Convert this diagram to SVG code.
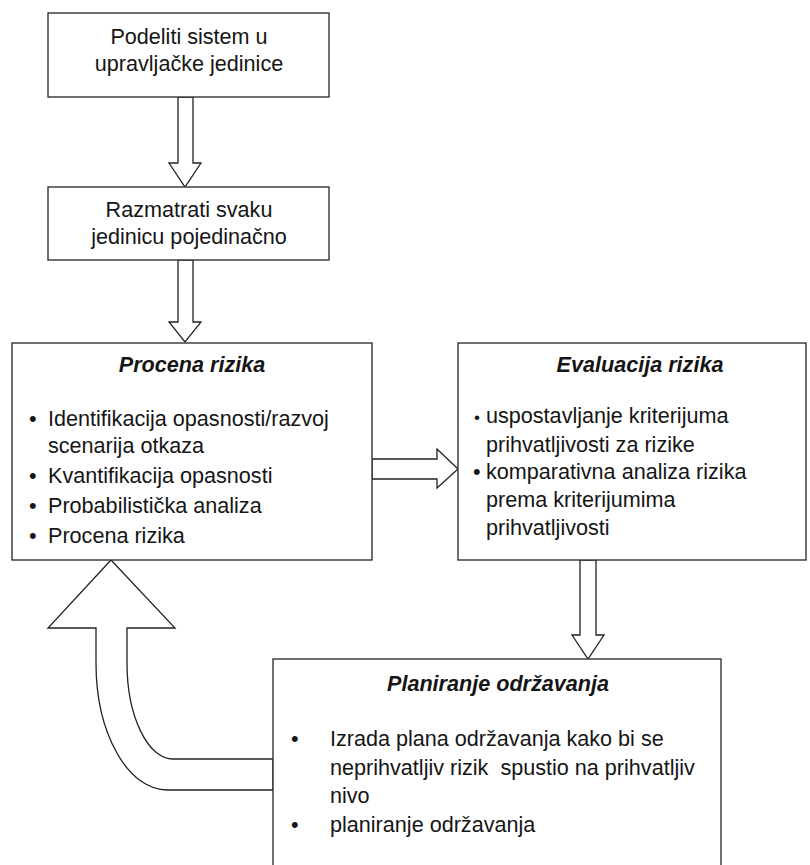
<svg xmlns="http://www.w3.org/2000/svg" width="810" height="865" viewBox="0 0 810 865">
<style>
.box{fill:#fff;stroke:#333;stroke-width:1.4}
.arr{fill:#fff;stroke:#222;stroke-width:1.3;stroke-linejoin:miter}
text{font-family:"Liberation Sans",Arial,sans-serif;font-size:21.6px;fill:#151515}
.c{text-anchor:middle}
.t{font-weight:bold;font-style:italic;text-anchor:middle}
</style>
<rect width="810" height="865" fill="#fff"/>
<g id="connectors">
<path class="arr" d="M178 97 V163 H169 L185 187 L201 163 H193 V97 Z"/>
<path class="arr" d="M178 260 V322 H169 L185 342 L201 322 H193 V260 Z"/>
<path class="arr" d="M372 459 H437 V449 L458 469 L437 488 V479 H372 Z"/>
<path class="arr" d="M580 560 V635 H572 L588 659 L604 635 H596 V560 Z"/>
<path class="arr" d="M273 759 H173 A46 96 0 0 1 127 663 V628 H175 L111 560 L48 628 H96 V663 A71 127 0 0 0 167 790 H273 Z"/>
</g>
<g id="node1">
<rect class="box" x="48" y="13" width="281" height="84"/>
<text class="c" x="189" y="44">Podeliti sistem u</text>
<text class="c" x="189" y="71">upravljačke jedinice</text>
</g>
<g id="node2">
<rect class="box" x="48" y="187" width="281" height="73"/>
<text class="c" x="189" y="217">Razmatrati svaku</text>
<text class="c" x="189" y="244">jedinicu pojedinačno</text>
</g>
<g id="node3">
<rect class="box" x="12" y="343" width="360" height="217"/>
<text class="t" x="192" y="372">Procena rizika</text>
<text x="29" y="426">•</text>
<text x="48" y="426">Identifikacija opasnosti/razvoj</text>
<text x="48" y="453">scenarija otkaza</text>
<text x="29" y="483">•</text>
<text x="48" y="483">Kvantifikacija opasnosti</text>
<text x="29" y="513">•</text>
<text x="48" y="513">Probabilistička analiza</text>
<text x="29" y="543">•</text>
<text x="48" y="543">Procena rizika</text>
</g>
<g id="node4">
<rect class="box" x="458" y="343" width="348" height="217"/>
<text class="t" x="640" y="372">Evaluacija rizika</text>
<text x="474" y="423" style="font-size:17px">•</text>
<text x="486" y="423">uspostavljanje kriterijuma</text>
<text x="486" y="452">prihvatljivosti za rizike</text>
<text x="473" y="479">•</text>
<text x="486" y="479">komparativna analiza rizika</text>
<text x="486" y="507">prema kriterijumima</text>
<text x="486" y="535">prihvatljivosti</text>
</g>
<g id="node5">
<rect class="box" x="273" y="659" width="448" height="215"/>
<text class="t" x="498" y="691">Planiranje održavanja</text>
<text x="291" y="746">•</text>
<text x="330" y="746">Izrada plana održavanja kako bi se</text>
<text x="330" y="775" xml:space="preserve">neprihvatljiv rizik  spustio na prihvatljiv</text>
<text x="330" y="803">nivo</text>
<text x="291" y="832">•</text>
<text x="330" y="832">planiranje održavanja</text>
</g>
</svg>
